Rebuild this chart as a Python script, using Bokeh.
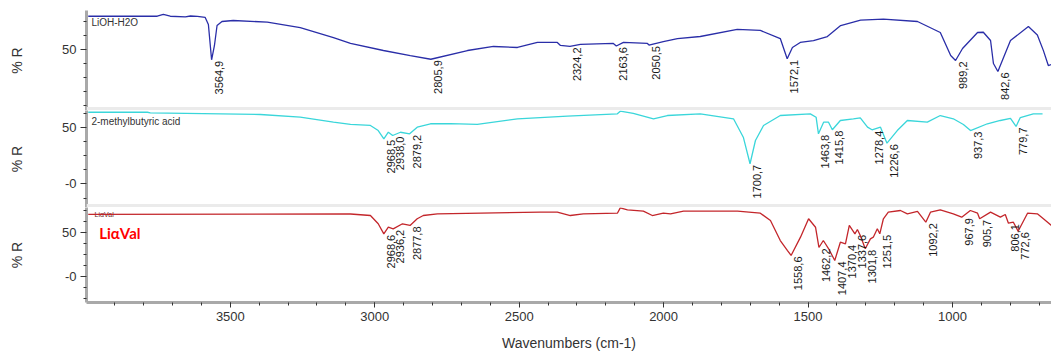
import numpy as np
from bokeh.plotting import figure
from bokeh.models import Range1d, FixedTicker, BoxAnnotation, Label, ColumnDataSource
from bokeh.layouts import column
from bokeh.embed import file_html
from bokeh.resources import INLINE
from bokeh.core.properties import value

# ---------------- data ----------------
lioh_wn = [3992, 3753, 3732, 3708, 3656, 3638, 3614, 3587, 3576, 3564.9, 3555, 3546, 3529, 3490, 3372,
           3258, 3143, 3084, 2970, 2877, 2805.9, 2679, 2589, 2506, 2437, 2368, 2357, 2324.2, 2288, 2174,
           2163.6, 2139, 2056, 2050.5, 2001, 1952, 1873, 1745, 1665, 1596, 1572.1, 1554, 1527, 1481, 1433,
           1387, 1318, 1239, 1121, 1042, 1006, 989.2, 965, 913, 893, 868, 858, 842.6, 823, 799,
           737, 706, 685, 668, 657]
lioh_r = [79.7, 79.7, 81.3, 79.7, 79.2, 79.9, 79.5, 78.6, 72.3, 40.8, 53.6, 71.4, 75.0, 75.9, 74.4,
          69.6, 60.7, 55.4, 49.1, 44.6, 41.3, 49.1, 52.7, 51.8, 56.3, 56.3, 53.6, 52.7, 54.5, 55.4,
          53.1, 56.3, 55.4, 54.0, 57.1, 59.8, 61.6, 67.9, 67.0, 59.8, 41.7, 51.8, 56.3, 58.0, 61.6,
          71.4, 76.2, 77.1, 75.0, 65.2, 44.6, 40.2, 50.9, 65.2, 65.4, 58.0, 37.5, 30.4, 42.9, 58.0,
          70.5, 63.0, 49.0, 35.7, 36.6]
lioh_peaks = [3564.9, 2805.9, 2324.2, 2163.6, 2050.5, 1572.1, 989.2, 842.6]

acid_wn = [3992, 3787, 3777, 3396, 3258, 3143, 3084, 3015, 2988, 2968.5, 2953, 2938.0, 2911, 2879.2, 2853,
           2807, 2738, 2645, 2506, 2333, 2160, 2150, 2105, 2035, 1987, 1873, 1758, 1724, 1700.7, 1682,
           1654, 1596, 1492, 1472, 1463.8, 1446, 1429, 1415.8, 1388, 1343, 1319, 1294, 1278.4, 1249, 1226.6,
           1191, 1156, 1087, 1042, 997, 962, 937.3, 879, 834, 799, 779.7, 765, 720, 688]
acid_r = [63.5, 63.5, 63.0, 61.5, 59.1, 54.7, 52.7, 51.8, 47.3, 40.0, 45.8, 42.9, 45.8, 44.4, 50.3,
          53.3, 53.5, 52.7, 57.7, 60.0, 62.1, 64.4, 62.4, 57.7, 60.6, 62.1, 57.7, 41.4, 17.9, 38.5,
          51.8, 60.6, 62.1, 59.1, 44.4, 54.7, 54.7, 48.0, 56.2, 57.7, 58.6, 50.3, 48.0, 50.3, 36.1,
          47.3, 56.2, 54.7, 60.6, 57.7, 52.7, 47.3, 53.3, 56.2, 58.0, 50.9, 58.8, 62.1, 62.1]
acid_peaks = [2968.5, 2938.0, 2879.2, 1700.7, 1463.8, 1415.8, 1278.4, 1226.6, 937.3, 779.7]

val_wn = [3992, 3084, 3015, 2988, 2968.6, 2953, 2936.2, 2904, 2877.8, 2853, 2832, 2783, 2427, 2368, 2323,
          2278, 2160, 2150, 2125, 2070, 2039, 2001, 1976, 1931, 1744, 1665, 1630, 1596, 1571, 1558.6,
          1526, 1498, 1474, 1462.2, 1447, 1429, 1407.4, 1388, 1370.4, 1357, 1337.6, 1329, 1319, 1301.8, 1284,
          1274, 1260, 1251.5, 1239, 1222, 1180, 1156, 1121, 1092.2, 1076, 1042, 997, 967.9, 938, 913,
          905.7, 868, 834, 817, 806.1, 789, 772.6, 740, 706, 685, 657]
val_r = [70.5, 71.0, 69.3, 59.9, 48.5, 56.0, 54.2, 59.9, 58.0, 65.6, 69.3, 71.2, 73.1, 73.1, 69.3,
         71.2, 71.9, 78.0, 75.8, 74.2, 69.3, 71.9, 71.2, 74.2, 74.2, 71.9, 63.6, 40.9, 29.5, 23.9,
         44.7, 65.6, 56.0, 33.0, 40.9, 31.8, 18.2, 39.0, 37.2, 58.0, 48.5, 53.4, 46.6, 31.5, 42.8,
         44.7, 54.2, 48.5, 65.6, 73.1, 75.0, 71.2, 73.9, 61.7, 73.1, 75.8, 71.2, 67.4, 75.0, 71.9,
         65.6, 73.1, 67.4, 70.5, 60.6, 61.7, 51.5, 71.9, 71.2, 65.6, 58.0]
val_peaks = [2968.6, 2936.2, 2877.8, 1558.6, 1462.2, 1407.4, 1370.4, 1337.6, 1301.8, 1251.5,
             1092.2, 967.9, 905.7, 806.1, 772.6]

x_ticks = [3500, 3000, 2500, 2000, 1500, 1000]
x_minor = list(range(700, 4000, 100))

FONT = "Liberation Sans"
TXT = "#333333"

xr = Range1d(start=3998, end=657)


def make_panel(height, yr, top_b, bottom_b, show_x, yticks, yminor):
    p = figure(width=1051, height=height, x_range=xr, y_range=yr,
               output_backend="svg", toolbar_location=None,
               x_axis_location="below" if show_x else None,
               min_border_left=86, min_border_right=0,
               min_border_top=top_b, min_border_bottom=bottom_b)
    p.outline_line_color = None
    p.grid.grid_line_color = None
    p.background_fill_color = "white"
    p.border_fill_color = "white"
    ya = p.yaxis[0]
    ya.ticker = FixedTicker(ticks=yticks, minor_ticks=yminor)
    ya.major_label_overrides = {0: "-0"}
    ya.axis_line_color = "#a9a9a9"
    ya.axis_line_width = 3
    ya.major_tick_out = 6
    ya.major_tick_in = 0
    ya.minor_tick_out = 3
    ya.minor_tick_in = 0
    ya.major_tick_line_color = "#333333"
    ya.minor_tick_line_color = "#333333"
    ya.major_label_text_font = FONT
    ya.major_label_text_font_size = "13px"
    ya.major_label_text_color = TXT
    ya.major_label_standoff = 4
    ya.axis_label = "% R"
    ya.axis_label_text_font = FONT
    ya.axis_label_text_font_size = "14px"
    ya.axis_label_text_font_style = "normal"
    ya.axis_label_text_color = TXT
    ya.axis_label_standoff = 34
    if show_x:
        xa = p.xaxis[0]
        xa.ticker = FixedTicker(ticks=x_ticks, minor_ticks=x_minor)
        xa.axis_line_color = "#a9a9a9"
        xa.axis_line_width = 3
        xa.major_tick_out = 5
        xa.major_tick_in = 0
        xa.minor_tick_out = 3
        xa.minor_tick_in = 0
        xa.major_tick_line_color = "#333333"
        xa.minor_tick_line_color = "#333333"
        xa.major_label_text_font = FONT
        xa.major_label_text_font_size = "13px"
        xa.major_label_text_color = TXT
        xa.major_label_standoff = 4
        xa.axis_label = "Wavenumbers (cm-1)"
        xa.axis_label_text_font = FONT
        xa.axis_label_text_font_size = "14px"
        xa.axis_label_text_font_style = "normal"
        xa.axis_label_text_color = TXT
        xa.axis_label_standoff = 11
    return p


def add_peaks(p, wn, r, peaks):
    wn_a = np.array(wn)[::-1]
    r_a = np.array(r)[::-1]
    ys = np.interp(peaks, wn_a, r_a)
    src = ColumnDataSource(dict(x=peaks, y=ys,
                                t=[f"{v:.1f}".replace(".", ",") for v in peaks]))
    p.text(x="x", y="y", text="t", source=src, angle=np.pi / 2,
           text_align="right", text_baseline="middle", x_offset=7, y_offset=1,
           text_font=value(FONT), text_font_size="11px", text_color="#1a1a1a")


# panel 1: LiOH-H2O
yr1 = Range1d(-4.46, 84.82)
p1 = make_panel(110, yr1, 10, 0, False, [50], [0, 12.5, 25, 37.5, 62.5, 75])
p1.line(lioh_wn, lioh_r, line_color="#2a2ea8", line_width=1.3)
add_peaks(p1, lioh_wn, lioh_r, lioh_peaks)
p1.add_layout(BoxAnnotation(bottom=-4.46, top=-4.46 + 3.5 / 1.12, fill_color="#ebebeb",
                            fill_alpha=1, line_color=None))
p1.add_layout(Label(x=3981, y=84.82 - 6 / 1.12, text="LiOH-H2O", text_baseline="top",
                    text_font=FONT, text_font_size="10px", text_color=TXT))

# panel 2: 2-methylbutyric acid
yr2 = Range1d(-20.8, 65.04)
p2 = make_panel(97, yr2, 0, 0, False, [0, 50], [-12.5, 12.5, 25, 37.5, 62.5])
p2.line(acid_wn, acid_r, line_color="#3ad6da", line_width=1.3)
add_peaks(p2, acid_wn, acid_r, acid_peaks)
p2.add_layout(BoxAnnotation(bottom=-20.8, top=-20.8 + 3.5 / 1.13, fill_color="#ebebeb",
                            fill_alpha=1, line_color=None))
p2.add_layout(Label(x=3981, y=65.04 - 5 / 1.13, text="2-methylbutyric acid", text_baseline="top",
                    text_font=FONT, text_font_size="10px", text_color=TXT))

# panel 3: LiαVal
yr3 = Range1d(-29.5, 78.4)
p3 = make_panel(147, yr3, 0, 52, True, [0, 50], [-25, -12.5, 12.5, 25, 37.5, 62.5, 75])
p3.text(x=[3970], y=[70.5], text=["LiαVal"], text_baseline="middle", text_align="left",
        text_font=value(FONT), text_font_size="7px", text_color="#6b1a1a")
p3.line(val_wn, val_r, line_color="#c3262b", line_width=1.3)
add_peaks(p3, val_wn, val_r, val_peaks)
p3.add_layout(Label(x=3954, y=50, text="LiαVal", text_baseline="middle",
                    text_font="Lato", text_font_size="15px", text_font_style="bold",
                    text_color="#ff0000"))

layout = column(p1, p2, p3)
open("out.html", "w").write(file_html(layout, INLINE))
